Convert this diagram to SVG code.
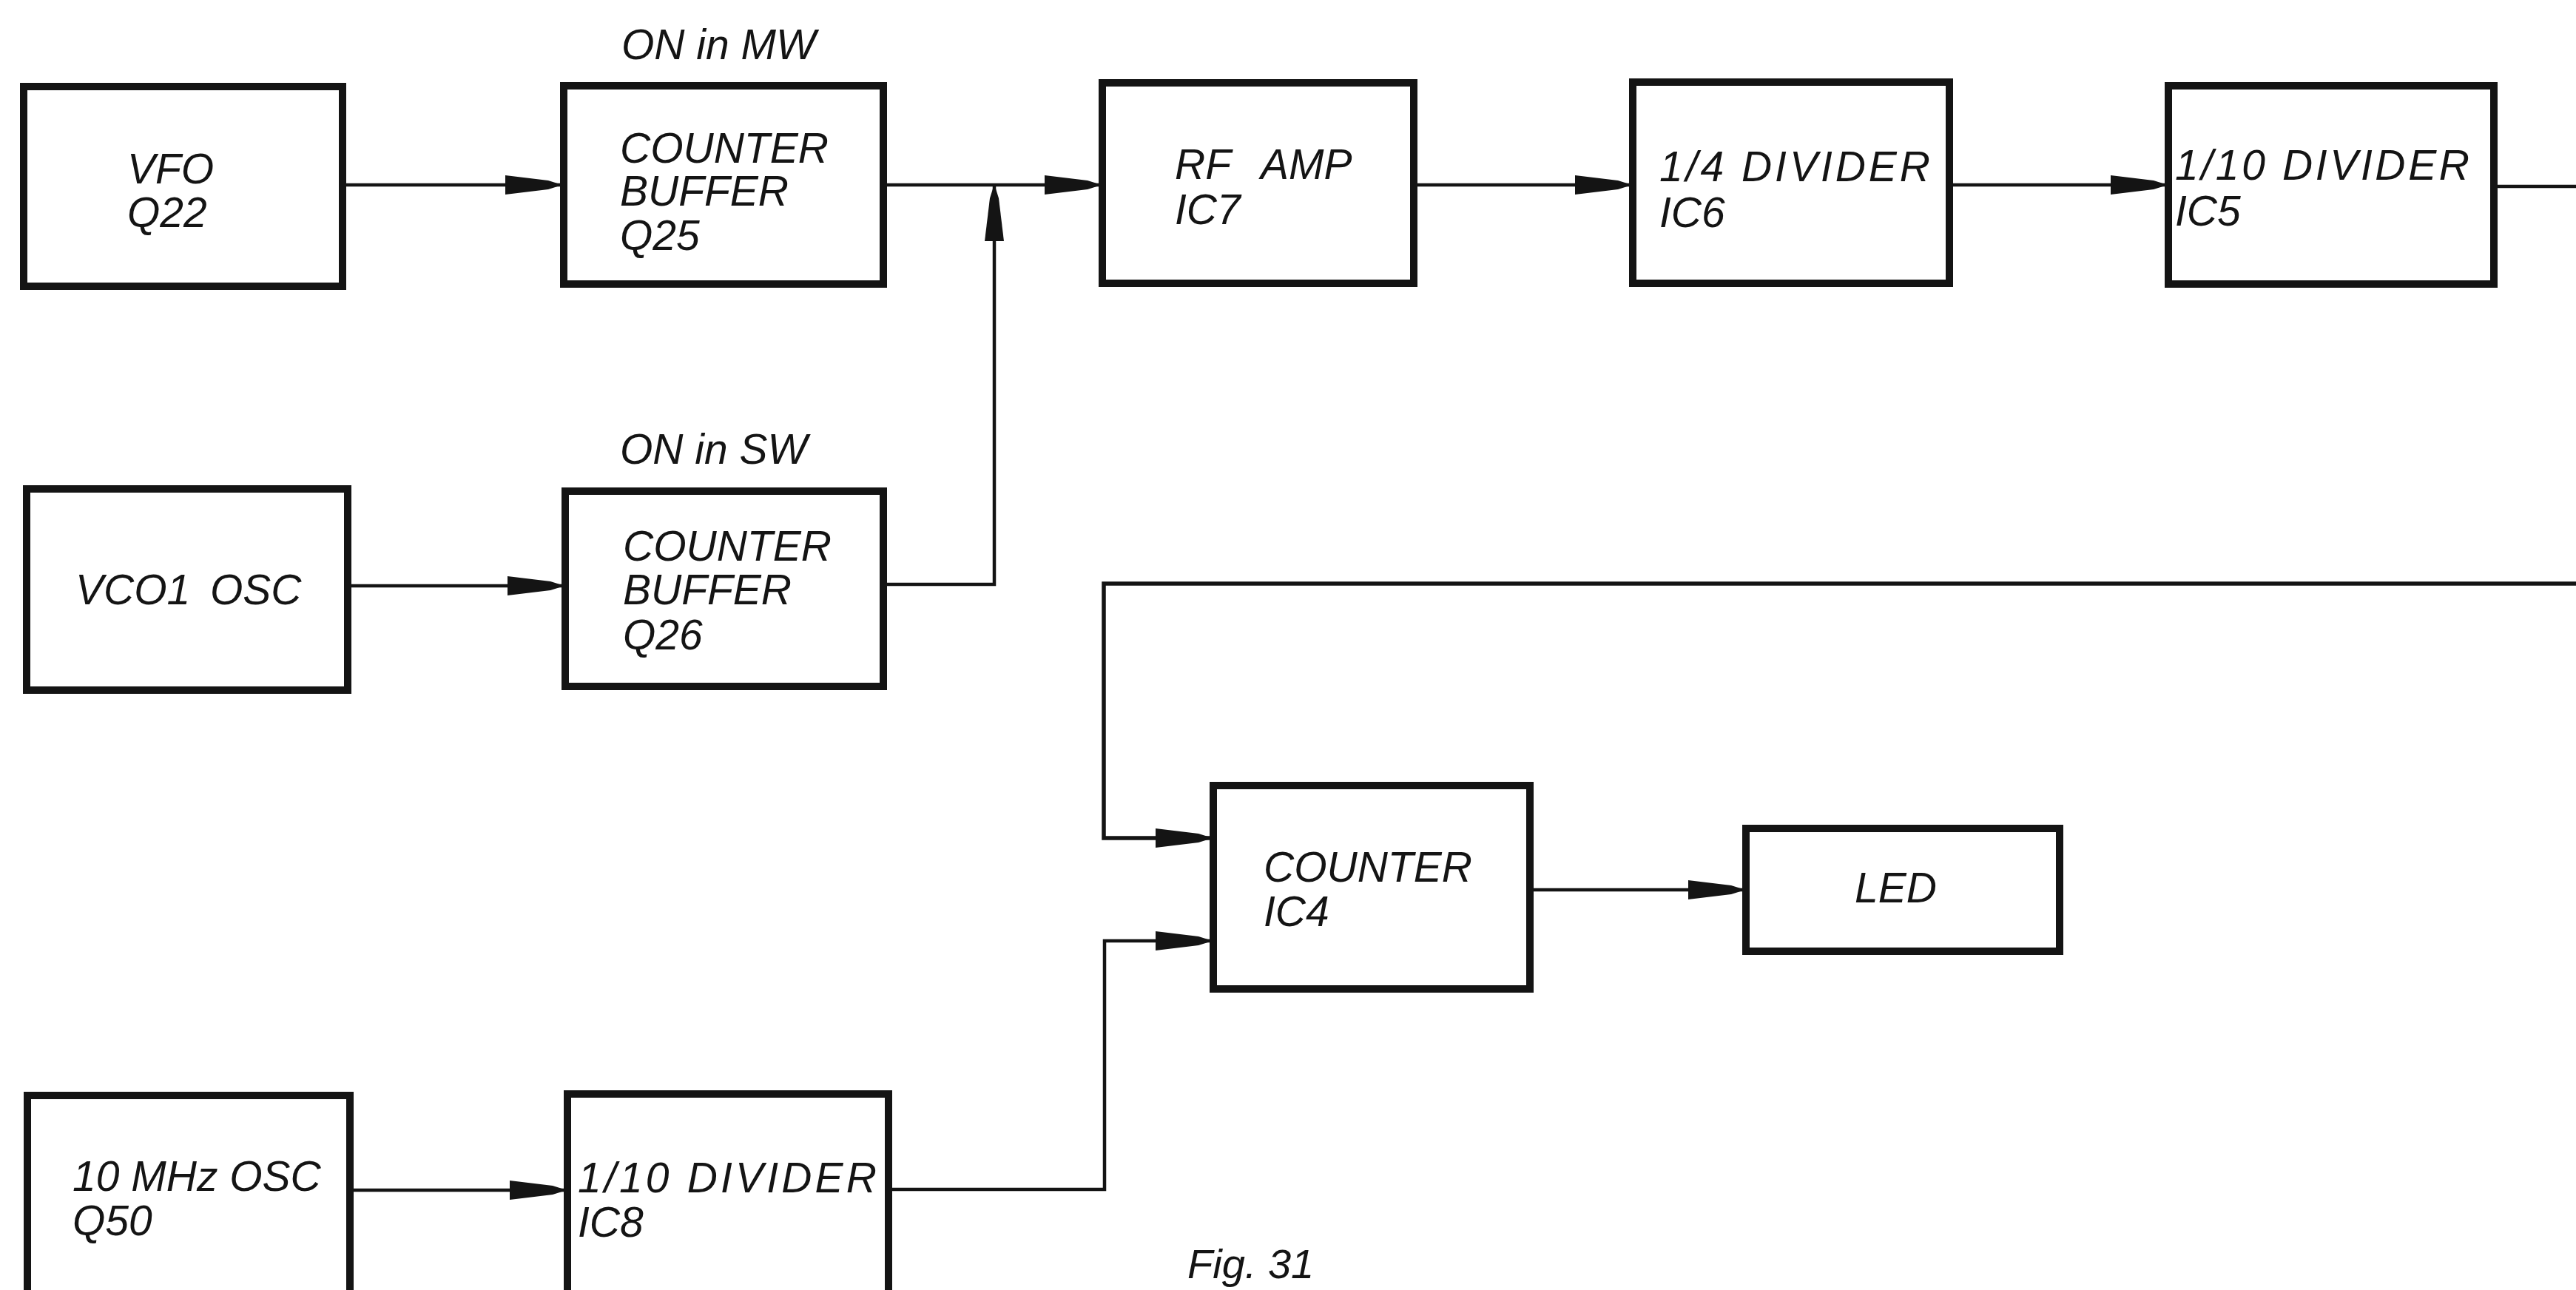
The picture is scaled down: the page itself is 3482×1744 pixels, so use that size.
<svg xmlns="http://www.w3.org/2000/svg" width="3482" height="1744" viewBox="0 0 3482 1744">
<style>
.box{fill:#fff;stroke:#141414;stroke-width:10}
.lbl{font-family:"Liberation Sans",Arial,sans-serif;font-style:italic;font-size:57px;fill:#141414}
.fig{font-family:"Liberation Sans",Arial,sans-serif;font-style:italic;font-size:56px;fill:#141414}
.wire{fill:none;stroke:#141414;stroke-width:4.5;stroke-linejoin:miter}
</style>
<defs>
<marker id="arr" markerUnits="userSpaceOnUse" markerWidth="78" markerHeight="28" refX="74" refY="13" orient="auto" overflow="visible">
<path d="M0,0 L58,7 L74,12 L74,14 L58,19 L0,26 Z" fill="#141414"/>
</marker>
</defs>
<rect width="3482" height="1744" fill="#fff"/>

<g id="connectors">
<path class="wire" d="M463,250 H757" marker-end="url(#arr)"/>
<path class="wire" d="M1194,250 H1486" marker-end="url(#arr)"/>
<path class="wire" d="M1194,790 H1344 V252" marker-end="url(#arr)"/>
<path class="wire" d="M1911,250 H2203" marker-end="url(#arr)"/>
<path class="wire" d="M2635,250 H2927" marker-end="url(#arr)"/>
<path class="wire" d="M3371,252 H3482"/>
<path class="wire" d="M470,792 H760" marker-end="url(#arr)"/>
<path class="wire" style="stroke-width:5.5" d="M3482,789 H1492 V1133 H1636" marker-end="url(#arr)"/>
<path class="wire" d="M1201,1608 H1493 V1272 H1636" marker-end="url(#arr)"/>
<path class="wire" d="M2068,1203 H2356" marker-end="url(#arr)"/>
<path class="wire" d="M473,1609 H763" marker-end="url(#arr)"/>
</g>

<g id="vfo">
<rect class="box" x="32" y="117" width="431" height="270"/>
<text class="lbl" x="172" y="248">VFO</text>
<text class="lbl" x="172" y="307">Q22</text>
</g>

<g id="buffer-q25">
<text class="lbl" x="840" y="80">ON in MW</text>
<rect class="box" x="762" y="116" width="432" height="268"/>
<text class="lbl" x="838" y="220">COUNTER</text>
<text class="lbl" x="838" y="278">BUFFER</text>
<text class="lbl" x="838" y="338">Q25</text>
</g>

<g id="rf-amp">
<rect class="box" x="1490" y="112" width="421" height="271"/>
<text class="lbl" x="1588" y="242">RF <tspan x="1704">AMP</tspan></text>
<text class="lbl" x="1588" y="303">IC7</text>
</g>

<g id="divider-ic6">
<rect class="box" x="2207" y="111" width="428" height="272"/>
<text class="lbl" x="2243" y="245" textLength="366" lengthAdjust="spacing">1/4 DIVIDER</text>
<text class="lbl" x="2243" y="307">IC6</text>
</g>

<g id="divider-ic5">
<rect class="box" x="2931" y="116" width="440" height="268"/>
<text class="lbl" x="2940" y="243" textLength="398" lengthAdjust="spacing">1/10 DIVIDER</text>
<text class="lbl" x="2940" y="305">IC5</text>
</g>

<g id="vco1">
<rect class="box" x="36" y="661" width="434" height="272"/>
<text class="lbl" x="102" y="817">VCO1 <tspan x="284">OSC</tspan></text>
</g>

<g id="buffer-q26">
<text class="lbl" x="838" y="627">ON in SW</text>
<rect class="box" x="764" y="664" width="430" height="264"/>
<text class="lbl" x="842" y="758">COUNTER</text>
<text class="lbl" x="842" y="817">BUFFER</text>
<text class="lbl" x="842" y="878">Q26</text>
</g>

<g id="counter-ic4">
<rect class="box" x="1640" y="1062" width="428" height="275"/>
<text class="lbl" x="1708" y="1192">COUNTER</text>
<text class="lbl" x="1708" y="1252">IC4</text>
</g>

<g id="led">
<rect class="box" x="2360" y="1120" width="424" height="166"/>
<text class="lbl" x="2507" y="1220">LED</text>
</g>

<g id="osc-q50">
<rect class="box" x="37" y="1481" width="436" height="300"/>
<text class="lbl" x="98" y="1610">10 MHz OSC</text>
<text class="lbl" x="98" y="1670">Q50</text>
</g>

<g id="divider-ic8">
<rect class="box" x="767" y="1479" width="434" height="300"/>
<text class="lbl" x="781" y="1612" textLength="404" lengthAdjust="spacing">1/10 DIVIDER</text>
<text class="lbl" x="781" y="1672">IC8</text>
</g>

<text class="fig" x="1605" y="1728">Fig. 31</text>
</svg>
